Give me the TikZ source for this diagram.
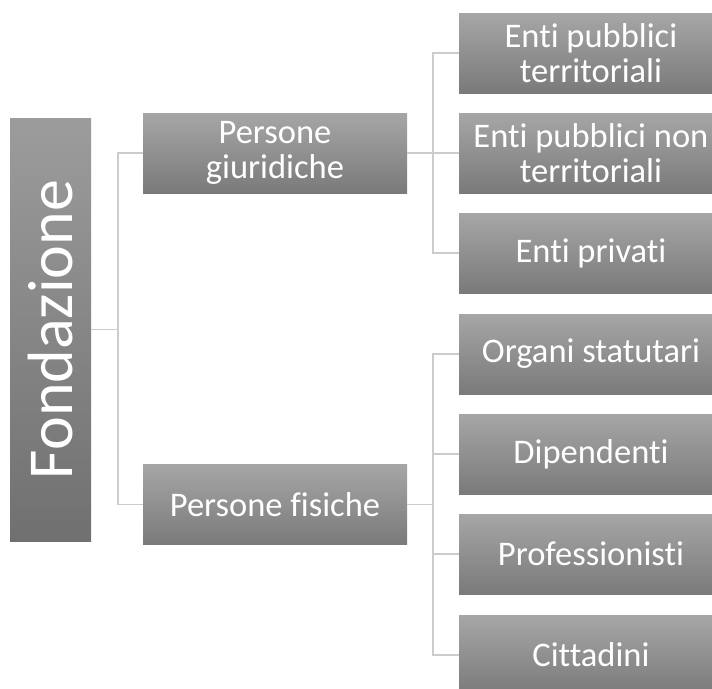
\documentclass[tikz,border=0pt]{standalone}
\usepackage{fontspec}
\setmainfont[Ligatures={NoCommon}]{Carlito}
\usetikzlibrary{positioning}

\definecolor{boxtop}{RGB}{166,166,166}
\definecolor{boxbot}{RGB}{122,122,122}
\definecolor{roottop}{RGB}{156,156,156}
\definecolor{rootbot}{RGB}{112,112,112}
\definecolor{linkgray}{RGB}{204,204,204}

\tikzset{
  box/.style={rectangle, top color=boxtop, bottom color=boxbot, draw=none,
    text=white, align=center, inner sep=0pt},
  lvtwo/.style={box, minimum width=264pt, minimum height=80pt,
    font=\fontsize{34.5}{35}\selectfont},
  lvthree/.style={box, minimum width=264pt, minimum height=80pt,
    font=\fontsize{34.5}{35}\selectfont},
  link/.style={linkgray, line width=1.5pt}
}

\begin{document}
\begin{tikzpicture}[x=1pt, y=-1pt]

    \useasboundingbox[fill=white] (0,0) rectangle (712,688);

    % root
    \node[box, top color=roottop, bottom color=rootbot, minimum width=81pt, minimum height=423pt] (fond) at (50.5,329.5) {};
    \node[text=white, rotate=90, font=\fontsize{64}{68}\selectfont] (fondtxt) at (fond.center) {Fondazione};

    % second level
    \node[lvtwo] (giur) at (275,153) {Persone\\giuridiche};
    \node[lvtwo] (fis) at (275,504.5) {Persone fisiche};

    % third level, persone giuridiche
    \node[lvthree] (ept) at (591,53) {Enti pubblici\\territoriali};
    \node[lvthree] (epnt) at (591,153) {Enti pubblici non\\territoriali};
    \node[lvthree] (epriv) at (591,253) {Enti privati};

    % third level, persone fisiche
    \node[lvthree] (organi) at (591,354) {Organi statutari};
    \node[lvthree] (dip) at (591,454) {Dipendenti};
    \node[lvthree] (prof) at (591,554) {Professionisti};
    \node[lvthree] (citt) at (591,655) {Cittadini};

    % connectors
    \coordinate (jroot) at (118,329.5);
    \coordinate (jgiur) at (433,153);
    \coordinate (jfis) at (433,504.5);

    \draw[link] (fond.east) -- (jroot);
    \draw[link] (jroot) |- (giur.west);
    \draw[link] (jroot) |- (fis.west);

    \draw[link] (giur.east) -- (jgiur);
    \draw[link] (jgiur) |- (ept.west);
    \draw[link] (jgiur) -- (epnt.west);
    \draw[link] (jgiur) |- (epriv.west);

    \draw[link] (fis.east) -- (jfis);
    \draw[link] (jfis) |- (organi.west);
    \draw[link] (jfis) |- (dip.west);
    \draw[link] (jfis) |- (prof.west);
    \draw[link] (jfis) |- (citt.west);

\end{tikzpicture}
\end{document}
